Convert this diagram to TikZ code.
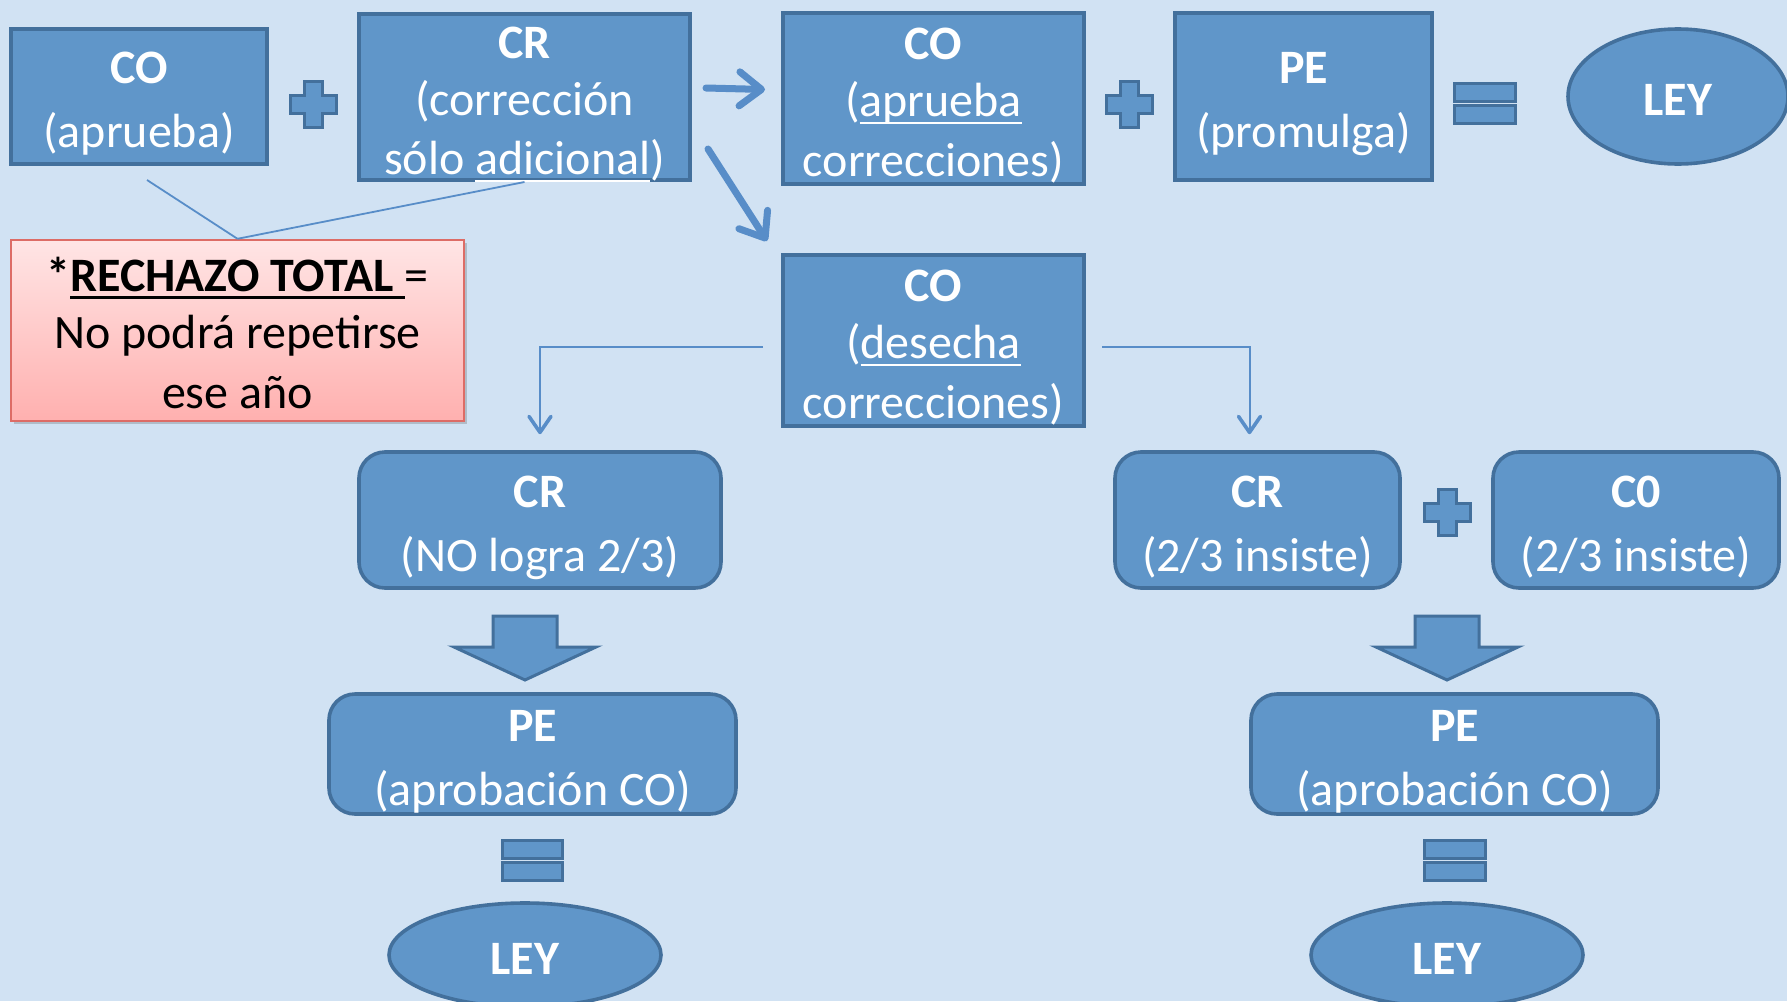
\documentclass[tikz,border=0pt]{standalone}
\usepackage{fontspec}
\setmainfont{Carlito}
\usetikzlibrary{arrows.meta,shapes.geometric,shadows}
\definecolor{fondo}{RGB}{209,226,243}
\definecolor{azul}{RGB}{96,150,201}
\definecolor{azulosc}{RGB}{67,112,156}
\definecolor{flecha}{RGB}{88,141,200}
\definecolor{rosaA}{RGB}{255,229,229}
\definecolor{rosaB}{RGB}{255,176,175}
\definecolor{rosaborde}{RGB}{221,108,102}
\newsavebox{\subbox}
\newcommand{\subraya}[2][1pt]{\sbox{\subbox}{#2}\rlap{\rule[-0.16em]{\wd\subbox}{#1}}\usebox{\subbox}}
\newcommand{\lstrut}{\rule[-0.25em]{0pt}{1.3em}}
\tikzset{
  caja/.style={draw=azulosc, line width=2pt, fill=azul, text=white, align=center,
    inner xsep=0pt, inner ysep=-6pt, font=\fontsize{24}{28.5}\selectfont},
  cajar/.style={caja, rounded corners=13pt, line width=1.8pt},
  ley/.style={caja, ellipse, line width=1.8pt},
  nota/.style={draw=rosaborde, line width=1.2pt, top color=rosaA, bottom color=rosaB, text=black,
    align=center, inner xsep=0pt, inner ysep=-6pt, font=\fontsize{24}{28.5}\selectfont,
    drop shadow={shadow xshift=1.5pt, shadow yshift=-1.5pt, opacity=0.3, fill=black!60}},
  simbolo/.style={draw=azulosc, line width=1.5pt, fill=azul},
  flechag/.style={draw=flecha, line width=3.5pt, line cap=round, -{Straight Barb[length=11pt,width=17pt,round]}},
  flechaf/.style={draw=flecha, line width=1pt, -{Straight Barb[length=8pt,width=11pt,round,line width=1.8pt]}},
  linea/.style={draw=flecha, line width=0.9pt}
}
\begin{document}
\begin{tikzpicture}[x=0.5pt,y=-0.5pt]
\useasboundingbox (0,0) rectangle (1787,1001);
\fill[fondo] (0,0) rectangle (1787,1001);

% fila superior
\node[caja, minimum width=128pt, minimum height=67.5pt] (co1) at (139,96.5) {\lstrut\textbf{CO}\\(aprueba)\lstrut};
\node[caja, minimum width=165.5pt, minimum height=83pt] (cr1) at (524.5,97) {\lstrut\textbf{CR}\\(corrección\\sólo \subraya{adicional})\lstrut};
\node[caja, minimum width=150.5pt, minimum height=85.5pt] (co2) at (933.5,98.5) {\lstrut\textbf{CO}\\(\subraya{aprueba}\\correcciones)\lstrut};
\node[caja, minimum width=128.5pt, minimum height=83.5pt] (pe1) at (1303.5,96.5) {\lstrut\textbf{PE}\\(promulga)\lstrut};
\node[ley, minimum width=110pt, minimum height=67.5pt] (ley1) at (1678,96.5) {\lstrut\textbf{LEY}};

% rechazo
\node[caja, minimum width=150.5pt, minimum height=85.5pt] (co3) at (933.5,340.5) {\lstrut\textbf{CO}\\(\subraya{desecha}\\correcciones)\lstrut};
\node[nota, minimum width=226.5pt, minimum height=90.5pt] (nota) at (237.5,330.5)
  {\lstrut\textbf{*\subraya[1.5pt]{RECHAZO TOTAL\ }}=\\No podrá repetirse\\ese año\lstrut};

% ramas
\node[cajar, minimum width=181pt, minimum height=68pt] (cr2) at (540,520) {\lstrut\textbf{CR}\\(NO logra 2/3)\lstrut};
\node[cajar, minimum width=142.5pt, minimum height=68pt] (cr3) at (1257.5,520) {\lstrut\textbf{CR}\\(2/3 insiste)\lstrut};
\node[cajar, minimum width=143pt, minimum height=68pt] (co4) at (1636,520) {\lstrut\textbf{C0}\\(2/3 insiste)\lstrut};
\node[cajar, minimum width=203.5pt, minimum height=60pt] (pe2) at (532.5,754) {\lstrut\textbf{PE}\\(aprobación CO)\lstrut};
\node[cajar, minimum width=203.5pt, minimum height=60pt] (pe3) at (1454.5,754) {\lstrut\textbf{PE}\\(aprobación CO)\lstrut};
\node[ley, minimum width=136pt, minimum height=52pt] (ley2) at (525,955) {\lstrut\textbf{LEY}};
\node[ley, minimum width=136pt, minimum height=52pt] (ley3) at (1447,955) {\lstrut\textbf{LEY}};

% simbolos
\foreach \cx/\cy in {313/104, 1129/104, 1447/512}
  \draw[simbolo] (\cx,\cy) ++(-9,-23) -- ++(18,0) -- ++(0,14) -- ++(14,0) -- ++(0,18) -- ++(-14,0)
    -- ++(0,14) -- ++(-18,0) -- ++(0,-14) -- ++(-14,0) -- ++(0,-18) -- ++(14,0) -- cycle;
\foreach \ex/\ey/\ew in {1454/83/61, 502/840/60, 1424/840/61} {
  \draw[simbolo] (\ex,\ey) rectangle ++(\ew,18);
  \draw[simbolo] (\ex,\ey+22) rectangle ++(\ew,18);
}
\foreach \bx in {525,1447}
  \draw[simbolo] (\bx-32,616) -- (\bx+32,616) -- (\bx+32,647) -- (\bx+71,647) -- (\bx,680)
    -- (\bx-71,647) -- (\bx-32,647) -- cycle;

% conectores
\draw[flechag] ([shift={(7pt,4.5pt)}]cr1.east) -- ([shift={(-8pt,4.5pt)}]co2.west);
\draw[flechag] ([shift={(8pt,-26pt)}]cr1.east) -- ([shift={(-7pt,6pt)}]co3.north west);
\draw[linea] (nota.north) -- ([shift={(4pt,-7pt)}]co1.south);
\draw[linea] (nota.north) -- (cr1.south);
\draw[flechaf] ([shift={(-9pt,-3pt)}]co3.west) -| ([yshift=8pt]cr2.north);
\draw[flechaf] ([shift={(8pt,-3pt)}]co3.east) -| ([shift={(-4pt,8pt)}]cr3.north);

\end{tikzpicture}
\end{document}
